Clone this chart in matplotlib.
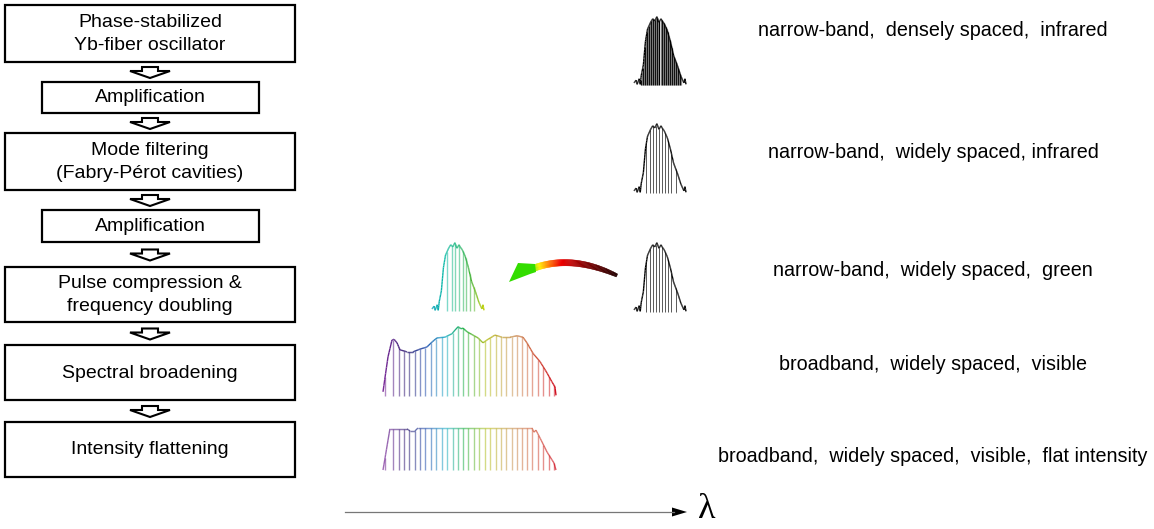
import matplotlib
matplotlib.use("Agg")
import matplotlib.pyplot as plt
import numpy as np
from matplotlib.patches import Rectangle, Polygon
from matplotlib.collections import LineCollection, PolyCollection
from matplotlib.colors import LinearSegmentedColormap

# flow chart stages (label, small box?)
stage_labels = ["Phase-stabilized\nYb-fiber oscillator", "Amplification",
                "Mode filtering\n(Fabry-Pérot cavities)", "Amplification",
                "Pulse compression &\nfrequency doubling", "Spectral broadening",
                "Intensity flattening"]
stage_small = [False, True, False, True, False, False, False]

spectrum_labels = ["narrow-band,  densely spaced,  infrared",
                   "narrow-band,  widely spaced, infrared",
                   "narrow-band,  widely spaced,  green",
                   "broadband,  widely spaced,  visible",
                   "broadband,  widely spaced,  visible,  flat intensity"]

# narrow-band spectrum envelope (relative wavelength, relative intensity)
ir_pos = [0.0, 0.04, 0.06, 0.10, 0.12, 0.14, 0.18, 0.22, 0.26, 0.32, 0.36, 0.40, 0.44,
          0.48, 0.52, 0.54, 0.58, 0.64, 0.70, 0.76, 0.84, 0.90, 0.96, 0.98, 1.0]
ir_level = [0.03, 0.07, 0.01, 0.09, 0.01, 0.14, 0.29, 0.63, 0.81, 0.91, 0.96, 0.93, 0.99,
            0.91, 0.96, 0.93, 0.89, 0.79, 0.63, 0.43, 0.27, 0.13, 0.03, 0.09, 0.01]
ir_modes = [0.24, 0.31, 0.36, 0.42, 0.48, 0.54, 0.60, 0.66, 0.72, 0.80]
green_modes = [0.29, 0.39, 0.45, 0.51, 0.59, 0.65, 0.73, 0.80]
dense_spacing = 0.02

# broadband spectrum envelope
vis_pos = [0.0, 0.012, 0.029, 0.052, 0.064, 0.081, 0.098, 0.139, 0.173, 0.214, 0.254,
           0.283, 0.312, 0.358, 0.399, 0.416, 0.434, 0.451, 0.462, 0.480, 0.491, 0.520,
           0.549, 0.578, 0.601, 0.647, 0.688, 0.734, 0.775, 0.809, 0.832, 0.867, 0.908,
           0.948, 0.977, 0.994, 1.0]
vis_level = [0.06, 0.27, 0.56, 0.80, 0.81, 0.76, 0.66, 0.63, 0.63, 0.67, 0.70,
             0.77, 0.83, 0.84, 0.89, 0.94, 0.99, 0.96, 0.97, 0.93, 0.91, 0.87,
             0.83, 0.76, 0.80, 0.87, 0.84, 0.84, 0.86, 0.84, 0.76, 0.61, 0.49,
             0.33, 0.20, 0.13, 0.01]
vis_modes = [0.012, 0.060, 0.094, 0.123, 0.152, 0.185, 0.214, 0.243, 0.277, 0.306, 0.339,
             0.371, 0.403, 0.431, 0.464, 0.493, 0.526, 0.557, 0.590, 0.618, 0.651, 0.680,
             0.711, 0.744, 0.773, 0.802, 0.831, 0.863, 0.898, 0.927, 0.960, 0.988]

# flattened spectrum envelope
flat_pos = [0.0, 0.012, 0.029, 0.040, 0.139, 0.156, 0.185, 0.202, 0.861, 0.873, 0.884,
            0.908, 0.948, 0.977, 0.988, 1.0]
flat_level = [0.0, 0.29, 0.71, 0.98, 0.98, 0.93, 0.93, 1.0, 1.0, 0.90, 0.95,
              0.76, 0.43, 0.24, 0.17, 0.0]

black = LinearSegmentedColormap.from_list("blk", ["black", "black"])
green_map = LinearSegmentedColormap.from_list(
    "grn", ["#00a0b4", "#10bca8", "#20b878", "#40b030", "#c0d000"])
vis_map = LinearSegmentedColormap.from_list(
    "vis", [(0.0, "#7a2a98"), (0.14, "#2a1a70"), (0.25, "#2050b0"), (0.36, "#20b0c8"),
            (0.47, "#20b040"), (0.6, "#b8c020"), (0.75, "#c89050"), (0.86, "#d06040"),
            (1.0, "#d01020")])
arrow_map = LinearSegmentedColormap.from_list(
    "arr", [(0.0, "#88ee00"), (0.08, "#ffee00"), (0.2, "#ff7700"), (0.35, "#ee0000"),
            (0.62, "#8a0000"), (1.0, "#200000")])


def draw_spectrum(ax, x0, w, base, h, pos, level, modes, cmap, mode_colors=None,
                  mode_alpha=0.55, mode_lw=1.0, edge_alpha=1.0):
    pos = np.asarray(pos)
    level = np.asarray(level)
    modes = np.asarray(modes)
    mx = x0 + w * modes
    top = base - h * np.interp(modes, pos, level)
    cols = mode_colors if mode_colors is not None else cmap(modes)
    ax.vlines(mx, base, top, colors=cols, lw=mode_lw, alpha=mode_alpha)
    # envelope drawn piecewise so the colour follows the wavelength
    fine = np.union1d(pos, np.linspace(0, 1, 200))
    px = x0 + w * fine
    py = base - h * np.interp(fine, pos, level)
    segs = np.stack([np.column_stack([px[:-1], py[:-1]]),
                     np.column_stack([px[1:], py[1:]])], axis=1)
    ax.add_collection(LineCollection(segs, colors=cmap((fine[:-1] + fine[1:]) / 2),
                                     lw=1.0, alpha=edge_alpha))


fig = plt.figure(figsize=(11.54, 5.29), dpi=100)
ax = fig.add_axes([0, 0, 1, 1])
ax.set_xlim(0, 1154)
ax.set_ylim(529, 0)
ax.axis("off")

font = "Liberation Sans"

# flow chart
box_top = [5, 82, 133, 210, 267, 345, 422]
box_bot = [62, 113, 190, 242, 322, 400, 477]
for i, lab in enumerate(stage_labels):
    x0, x1 = (42, 259) if stage_small[i] else (5, 295)
    ax.add_patch(Rectangle((x0, box_top[i]), x1 - x0, box_bot[i] - box_top[i],
                           fill=False, ec="black", lw=1.6))
    ax.text(150, (box_top[i] + box_bot[i]) / 2 + 0.5, lab, ha="center", va="center",
            fontsize=14, family=font, linespacing=1.4)
    if i < len(stage_labels) - 1:
        cy = (box_bot[i] + box_top[i + 1]) / 2
        ax.add_patch(Polygon([(142, cy - 5), (158, cy - 5), (158, cy - 1), (170, cy - 1),
                              (150, cy + 6), (130, cy - 1), (142, cy - 1)],
                             closed=True, fc="white", ec="black", lw=1.5))

# spectra
draw_spectrum(ax, 634, 52, 85, 69, ir_pos, ir_level,
              np.arange(0.13, 0.93, dense_spacing), black,
              mode_colors=["black", "#8a8a8a"] * 20, mode_alpha=1.0, mode_lw=0.9)
draw_spectrum(ax, 634, 52, 193, 70, ir_pos, ir_level, ir_modes, black,
              mode_alpha=0.65, mode_lw=0.7)
draw_spectrum(ax, 634, 52, 312, 70, ir_pos, ir_level, ir_modes, black,
              mode_alpha=0.65, mode_lw=0.7)
draw_spectrum(ax, 432, 52, 311, 69, ir_pos, ir_level, green_modes, green_map)
draw_spectrum(ax, 383, 173, 396, 70, vis_pos, vis_level, vis_modes, vis_map)
draw_spectrum(ax, 383, 173, 470, 42, flat_pos, flat_level, vis_modes, vis_map,
              edge_alpha=0.7)

# curved arrow (frequency doubling)
t = np.linspace(0, 1, 80)
p0, p1, p2 = np.array([533, 268.5]), np.array([571, 254]), np.array([617, 275.5])
cx = (1 - t) ** 2 * p0[0] + 2 * t * (1 - t) * p1[0] + t ** 2 * p2[0]
cy = (1 - t) ** 2 * p0[1] + 2 * t * (1 - t) * p1[1] + t ** 2 * p2[1]
dx, dy = np.gradient(cx), np.gradient(cy)
nrm = np.hypot(dx, dy)
nx, ny = -dy / nrm, dx / nrm
hw = 3.2 - 1.6 * t ** 4
ux, uy = cx + nx * hw, cy + ny * hw
lx, ly = cx - nx * hw, cy - ny * hw
quads = [[(ux[k], uy[k]), (ux[k + 1], uy[k + 1]), (lx[k + 1], ly[k + 1]), (lx[k], ly[k])]
         for k in range(len(t) - 1)]
ax.add_collection(PolyCollection(quads, facecolors=arrow_map(t[:-1]),
                                 edgecolors=arrow_map(t[:-1]), lw=0.3))
ax.add_patch(Polygon([(509, 282), (518, 263), (535, 264), (536, 272), (530, 274)],
                     closed=True, fc="#33dd00", ec="none"))

# wavelength axis
ax.plot([345, 674], [512, 512], color="#777777", lw=0.9)
ax.add_patch(Polygon([(687, 512), (672, 507.5), (672, 516.5)], closed=True,
                     fc="black", ec="none"))
ax.text(707, 510, "λ", ha="center", va="center", fontsize=26,
        family=["Liberation Serif", "DejaVu Serif"])

# descriptions
label_y = [31, 152, 271, 365, 457]
for lab, y in zip(spectrum_labels, label_y):
    ax.text(933, y, lab, ha="center", va="center", fontsize=14.2, family=font)

fig.savefig("out.png", dpi=100)
